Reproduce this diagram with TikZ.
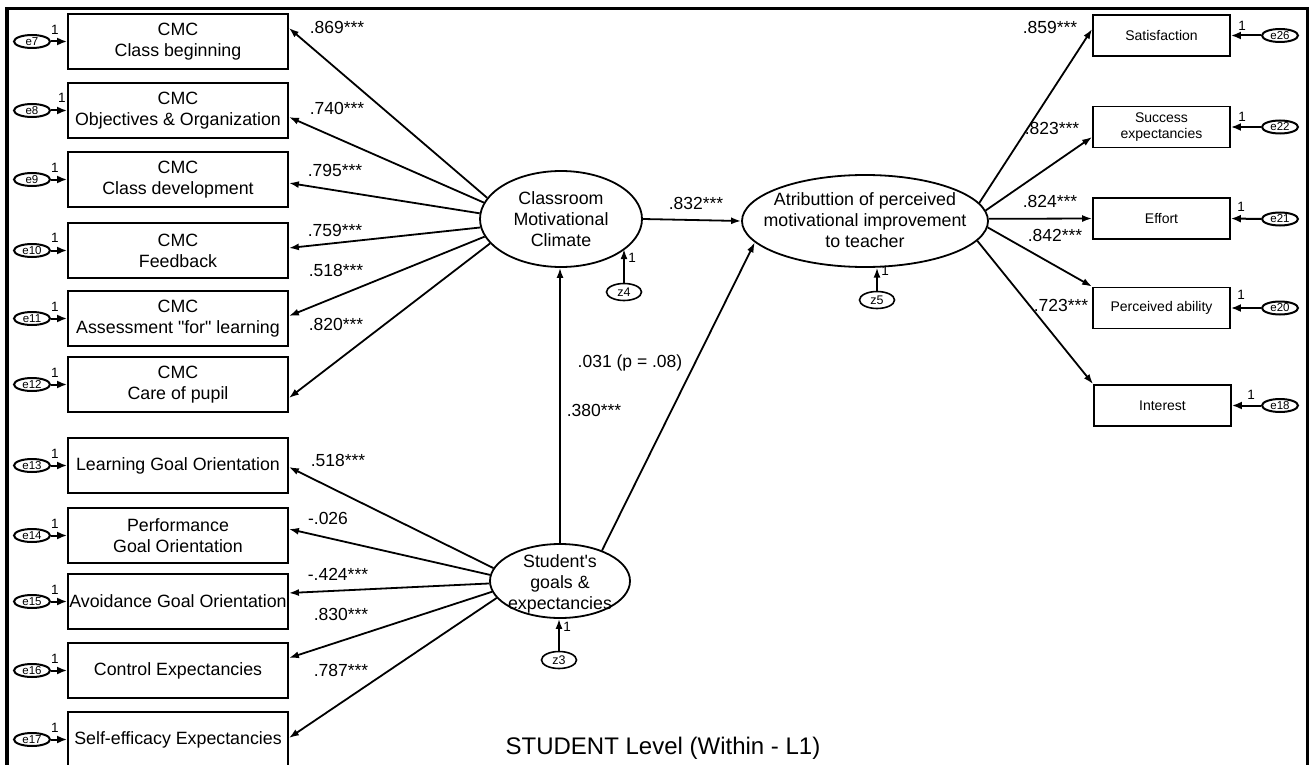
\documentclass[tikz,border=0pt]{standalone}
\usepackage{fontspec}
\setmainfont{Liberation Sans}[Ligatures=TeXOff]
\usetikzlibrary{arrows.meta,shapes.geometric}

\begin{document}
\begin{tikzpicture}[x=1pt,y=-1pt,
  obs/.style={draw, line width=1.8pt, rectangle, minimum width=220pt, minimum height=55pt,
    inner sep=0pt, align=center, font=\fontsize{17.8}{21}\selectfont},
  obsr/.style={draw, line width=1.8pt, rectangle, minimum width=137pt, minimum height=41pt,
    inner sep=0pt, align=center, font=\fontsize{14}{16}\selectfont},
  lat/.style={draw, ellipse, line width=1.8pt, inner sep=0pt},
  lattext/.style={inner sep=0pt, align=center, font=\fontsize{17.8}{21}\selectfont},
  err/.style={draw, ellipse, line width=2pt, minimum width=36pt, minimum height=13pt,
    inner sep=0pt, font=\fontsize{11.5}{11.5}\selectfont},
  dist/.style={draw, ellipse, line width=1.6pt, minimum width=35pt, minimum height=17pt,
    inner sep=0pt, font=\fontsize{12.5}{12.5}\selectfont},
  arr/.style={line width=1.8pt, -{Latex[length=10pt,width=7pt]}},
  earr/.style={line width=2pt, -{Latex[length=10pt,width=8pt]}},
  coef/.style={inner sep=0pt, font=\fontsize{17.5}{17.5}\selectfont},
  one/.style={inner sep=0pt, font=\fontsize{13.5}{13.5}\selectfont},
]
\useasboundingbox (0,0) rectangle (1309,765);
\fill[white] (0,0) rectangle (1309,765);

% outer frame (open at the bottom)
\draw[line width=3.5pt] (7,765) -- (7,8.5) -- (1307.5,8.5) -- (1307.5,765);

% ---------- latent variables ----------
\node[lat, minimum width=162pt, minimum height=96pt] (cmc) at (561,219) {};
\node[lattext] (cmct) at (561,219) {Classroom\\Motivational\\Climate};
\node[lat, minimum width=246pt, minimum height=92pt] (att) at (865,221) {};
\node[lattext] (attt) at (865,220) {Atributtion of perceived\\motivational improvement\\to teacher};
\node[lat, minimum width=140pt, minimum height=74pt] (sge) at (560,581) {};
\node[lattext] (sget) at (560,583.5) {Student's\\goals \&\\expectancies};

% disturbances
\node[dist] (z4) at (624,292) {z4};
\node[dist] (z5) at (877,300) {z5};
\node[dist] (z3) at (559,660) {z3};
\draw[arr] (z4.north) -- (z4.north |- cmc.-25);
\draw[arr] (z5.north) -- (z5.north |- att.-75);
\draw[arr] (z3.north) -- (z3.north |- sge.south);
\node[one] (z4one) at (632,258) {1};
\node[one] (z5one) at (885,271) {1};
\node[one] (z3one) at (567,627) {1};

% ---------- left indicators ----------
\node[obs] (b1) at (178,41.5) {CMC\\Class beginning};
\node[obs] (b2) at (178,110.5) {CMC\\Objectives \& Organization};
\node[obs] (b3) at (178,179.5) {CMC\\Class development};
\node[obs] (b4) at (178,250.5) {CMC\\Feedback};
\node[obs] (b5) at (178,318.5) {CMC\\Assessment "for" learning};
\node[obs] (b6) at (178,384.5) {CMC\\Care of pupil};
\node[obs] (b7) at (178,465.5) {Learning Goal Orientation};
\node[obs] (b8) at (178,535.5) {Performance\\Goal Orientation};
\node[obs] (b9) at (178,601.5) {Avoidance Goal Orientation};
\node[obs] (b10) at (178,670.5) {Control Expectancies};
\node[obs] (b11) at (178,739.5) {Self-efficacy Expectancies};

% left error terms
\foreach \e/\b/\y in {e7/b1/41.5, e8/b2/110.5, e9/b3/179.5, e10/b4/250.5, e11/b5/318.5,
    e12/b6/384.5, e13/b7/465.5, e14/b8/535.5, e15/b9/601.5, e16/b10/670.5, e17/b11/739.5}{
  \node[err] (\e) at (32,\y) {\e};
  \draw[earr] (\e.east) -- (\b.west);
}
\foreach \n/\y in {e7/29.5, e9/167.5, e10/238, e11/306.5, e12/372.5, e13/453.5,
    e14/523.5, e15/589.5, e16/658.5, e17/727.5}{
  \node[one] (\n one) at (55,\y) {1};
}
\node[one] (e8one) at (62,98) {1};

% loadings of Classroom Motivational Climate
\draw[arr] (cmc.164) -- ([yshift=13.5pt]b1.east);
\draw[arr] (cmc.168) -- ([yshift=-6.5pt]b2.east);
\draw[arr] (cmc.176) -- ([yshift=-3.5pt]b3.east);
\draw[arr] (cmc.186) -- ([yshift=2.5pt]b4.east);
\draw[arr] (cmc.193) -- ([yshift=2.5pt]b5.east);
\draw[arr] (cmc.199) -- ([yshift=-13.5pt]b6.east);
\node[coef] (l1) at (337,27) {.869***};
\node[coef] (l2) at (337,108) {.740***};
\node[coef] (l3) at (335,170) {.795***};
\node[coef] (l4) at (335,230) {.759***};
\node[coef] (l5) at (336,270) {.518***};
\node[coef] (l6) at (336,324) {.820***};

% loadings of Student's goals & expectancies
\draw[arr] (sge.169) -- ([yshift=-1.5pt]b7.east);
\draw[arr] (sge.175) -- ([yshift=6.5pt]b8.east);
\draw[arr] (sge.182) -- ([yshift=8.5pt]b9.east);
\draw[arr] (sge.189) -- ([yshift=12.5pt]b10.east);
\draw[arr] (sge.195) -- ([yshift=1.5pt]b11.east);
\node[coef] (l7) at (338,460) {.518***};
\node[coef] (l8) at (328,518) {-.026};
\node[coef] (l9) at (338,574) {-.424***};
\node[coef] (l10) at (341,614) {.830***};
\node[coef] (l11) at (341,670) {.787***};

% ---------- right indicators ----------
\node[obsr] (r1) at (1161.5,35.5) {Satisfaction};
\node[obsr] (r2) at (1161.5,127) {Success\\expectancies};
\node[obsr] (r3) at (1161.5,218.5) {Effort};
\node[obsr] (r4) at (1161.5,308) {Perceived ability};
\node[obsr] (r5) at (1162.5,405.5) {Interest};

\foreach \e/\b/\y in {e26/r1/35.5, e22/r2/127, e21/r3/219, e20/r4/308, e18/r5/405.5}{
  \node[err] (\e) at (1280,\y) {\e};
  \draw[earr] (\e.west) -- (\b.east);
}
\node[one] (e26one) at (1242,26) {1};
\node[one] (e22one) at (1242,117) {1};
\node[one] (e21one) at (1241,207) {1};
\node[one] (e20one) at (1241,295) {1};
\node[one] (e18one) at (1251,395) {1};

\draw[arr] (att.9.5) -- ([yshift=6.5pt]r1.west);
\draw[arr] (att.5) -- ([yshift=-10pt]r2.west);
\draw[arr] (att.1) -- (r3.west);
\draw[arr] (att.-3) -- (r4.north west);
\draw[arr] (att.-10) -- (r5.north west);
\node[coef] (m1) at (1050,27) {.859***};
\node[coef] (m2) at (1052,128) {.823***};
\node[coef] (m3) at (1050,201) {.824***};
\node[coef] (m4) at (1055,235) {.842***};
\node[coef] (m5) at (1061,305) {.723***};

% ---------- structural paths ----------
\draw[arr] (cmc.east) -- (att.west);
\draw[arr] (sge.north) -- (sge.north |- cmc.south);
\draw[arr] (sge.36) -- (att.191.5);
\node[coef] (p1) at (696,203) {.832***};
\node[coef] (p2) at (594,410) {.380***};
\node[coef] (p3) at (630,363) {.031 (p = .08)};

% title
\node[inner sep=0pt, font=\fontsize{24}{24}\selectfont] (title) at (663,748) {STUDENT Level (Within - L1)};
\end{tikzpicture}
\end{document}
